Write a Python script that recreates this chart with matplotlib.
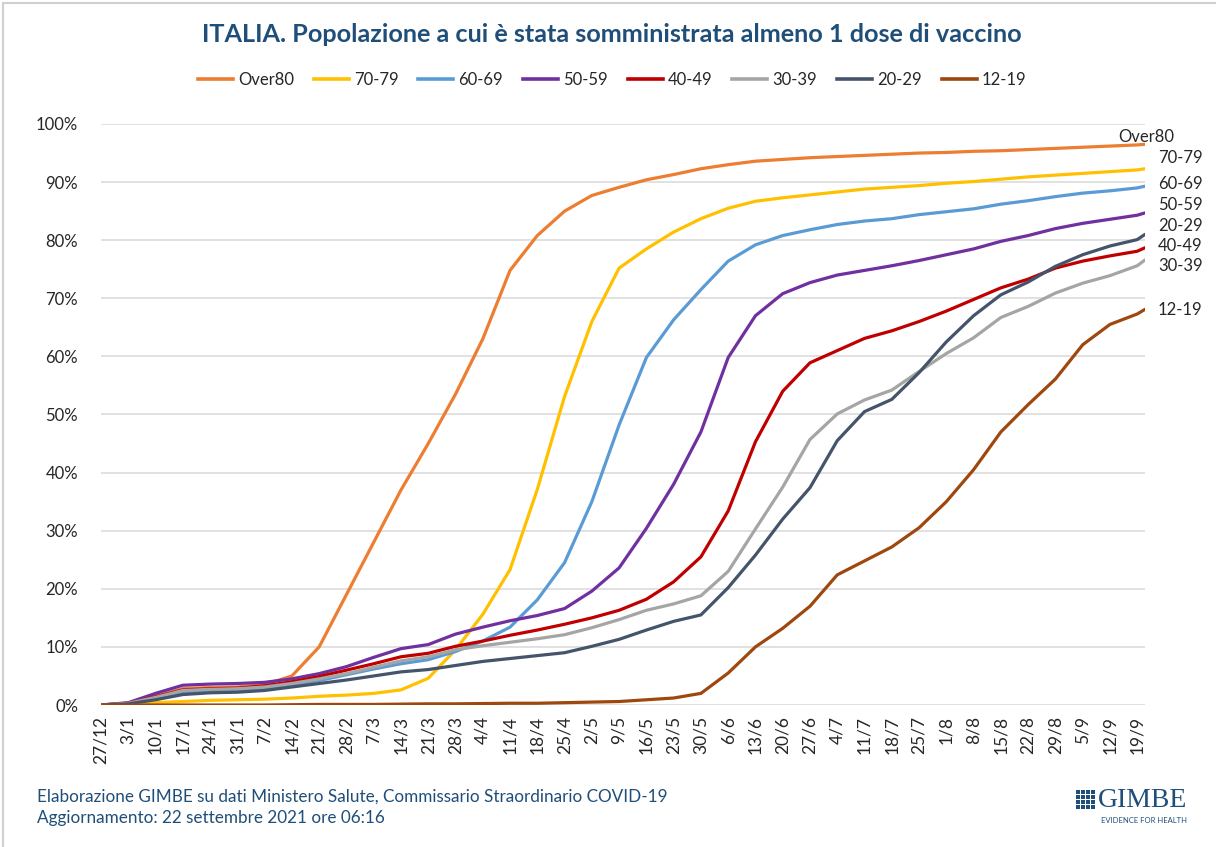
import matplotlib
matplotlib.use('Agg')
import matplotlib.pyplot as plt
import pandas as pd
from matplotlib.lines import Line2D
from matplotlib.patches import Rectangle

# ---------------- data ----------------
tick_labels = ['27/12', '3/1', '10/1', '17/1', '24/1', '31/1', '7/2', '14/2', '21/2', '28/2',
               '7/3', '14/3', '21/3', '28/3', '4/4', '11/4', '18/4', '25/4', '2/5', '9/5',
               '16/5', '23/5', '30/5', '6/6', '13/6', '20/6', '27/6', '4/7', '11/7', '18/7',
               '25/7', '1/8', '8/8', '15/8', '22/8', '29/8', '5/9', '12/9', '19/9']

dates = ['2020-12-27', '2021-01-03', '2021-01-10', '2021-01-17', '2021-01-24', '2021-01-31',
         '2021-02-07', '2021-02-14', '2021-02-21', '2021-02-28', '2021-03-07', '2021-03-14',
         '2021-03-21', '2021-03-28', '2021-04-04', '2021-04-11', '2021-04-18', '2021-04-25',
         '2021-05-02', '2021-05-09', '2021-05-16', '2021-05-23', '2021-05-30', '2021-06-06',
         '2021-06-13', '2021-06-20', '2021-06-27', '2021-07-04', '2021-07-11', '2021-07-18',
         '2021-07-25', '2021-08-01', '2021-08-08', '2021-08-15', '2021-08-22', '2021-08-29',
         '2021-09-05', '2021-09-12', '2021-09-19', '2021-09-21']

over80 = [0, 0.3, 1.5, 2.8, 3.0, 3.1, 3.5, 5.0, 10.0, 19.0, 28.0, 37.0, 45.0, 53.5, 63.0,
          74.8, 80.8, 85.0, 87.7, 89.1, 90.4, 91.3, 92.3, 93.0, 93.6, 93.9, 94.2, 94.4, 94.6,
          94.8, 95.0, 95.1, 95.3, 95.4, 95.6, 95.8, 96.0, 96.2, 96.4, 96.5]
age_70_79 = [0, 0.1, 0.4, 0.6, 0.8, 0.9, 1.0, 1.2, 1.5, 1.7, 2.0, 2.6, 4.6, 9.5, 15.6,
             23.3, 37.1, 53.1, 66.0, 75.2, 78.5, 81.4, 83.7, 85.5, 86.7, 87.3, 87.8, 88.3, 88.8,
             89.1, 89.4, 89.8, 90.1, 90.5, 90.9, 91.2, 91.5, 91.8, 92.1, 92.3]
age_60_69 = [0, 0.2, 1.0, 2.0, 2.3, 2.4, 2.8, 3.5, 4.2, 5.2, 6.2, 7.1, 7.8, 9.2, 11.0,
             13.4, 18.1, 24.5, 35.0, 48.2, 59.8, 66.3, 71.5, 76.4, 79.2, 80.8, 81.8, 82.7, 83.3,
             83.7, 84.4, 84.9, 85.4, 86.2, 86.8, 87.5, 88.1, 88.5, 89.0, 89.3]
age_50_59 = [0, 0.4, 2.0, 3.4, 3.6, 3.7, 3.9, 4.5, 5.4, 6.6, 8.2, 9.7, 10.4, 12.2, 13.4,
             14.5, 15.4, 16.6, 19.6, 23.6, 30.4, 38.0, 47.0, 59.8, 67.0, 70.8, 72.7, 74.0, 74.8,
             75.6, 76.5, 77.5, 78.5, 79.8, 80.8, 82.0, 82.9, 83.6, 84.3, 84.7]
age_40_49 = [0, 0.3, 1.4, 2.6, 2.8, 2.9, 3.3, 4.0, 4.9, 6.0, 7.1, 8.3, 8.9, 10.1, 11.0,
             12.0, 12.9, 13.9, 15.0, 16.3, 18.2, 21.2, 25.5, 33.4, 45.3, 54.0, 58.9, 61.0, 63.1,
             64.4, 66.0, 67.8, 69.8, 71.8, 73.3, 75.2, 76.4, 77.3, 78.1, 78.7]
age_30_39 = [0, 0.3, 1.3, 2.5, 2.7, 2.8, 3.1, 3.7, 4.5, 5.4, 6.5, 7.6, 8.3, 9.5, 10.2,
             10.8, 11.4, 12.1, 13.3, 14.7, 16.3, 17.4, 18.8, 23.0, 30.3, 37.5, 45.7, 50.1, 52.5,
             54.2, 57.4, 60.5, 63.2, 66.7, 68.6, 70.9, 72.6, 73.9, 75.6, 76.6]
age_20_29 = [0, 0.2, 0.9, 1.8, 2.1, 2.2, 2.5, 3.1, 3.7, 4.3, 5.0, 5.7, 6.1, 6.8, 7.5,
             8.0, 8.5, 9.0, 10.1, 11.3, 12.9, 14.4, 15.5, 20.2, 25.8, 32.0, 37.4, 45.5, 50.5,
             52.6, 57.2, 62.5, 67.0, 70.6, 72.8, 75.5, 77.5, 79.0, 80.1, 81.0]
age_12_19 = [0, 0, 0, 0, 0, 0, 0, 0.05, 0.1, 0.1, 0.1, 0.15, 0.2, 0.2, 0.25,
             0.3, 0.3, 0.4, 0.5, 0.6, 0.9, 1.2, 2.0, 5.5, 10.0, 13.2, 17.0, 22.4, 24.8,
             27.2, 30.5, 35.0, 40.5, 47.0, 51.7, 56.1, 62.0, 65.5, 67.3, 68.1]

series_names = ['Over80', '70-79', '60-69', '50-59', '40-49', '30-39', '20-29', '12-19']
series_values = [over80, age_70_79, age_60_69, age_50_59, age_40_49, age_30_39, age_20_29, age_12_19]
series_colors = ['#ED7D31', '#FFC000', '#5B9BD5', '#7030A0', '#C00000', '#A5A5A5', '#44546A', '#9E480E']

# right-hand labels (order top to bottom as in the reference)
end_label_order = ['Over80', '70-79', '60-69', '50-59', '20-29', '40-49', '30-39', '12-19']

# ---------------- figure ----------------
W, H = 1216, 847
plt.rcParams['font.family'] = ['Lato', 'DejaVu Sans']
fig = plt.figure(figsize=(W / 100, H / 100), dpi=100)
fig.patch.set_facecolor('white')

def fx(px):
    return px / W

def fy(py):
    return 1 - py / H

ax_left, ax_right = 101, 1145
ax_top, ax_bottom = 124, 705
ax = fig.add_axes([fx(ax_left), fy(ax_bottom), (ax_right - ax_left) / W, (ax_bottom - ax_top) / H])

x = pd.to_datetime(dates)
for name, vals, col in zip(series_names, series_values, series_colors):
    ax.plot(x, vals, color=col, lw=2.3, solid_capstyle='round', solid_joinstyle='round',
            label=name, zorder=3)

ax.set_xlim(x[0], x[-1])
ax.set_ylim(0, 100)
ax.set_yticks(range(0, 101, 10))
ax.set_yticklabels([f'{v}%' for v in range(0, 101, 10)], fontsize=12, color='#262626')
ax.set_xticks(x[:len(tick_labels)])
ax.set_xticklabels(tick_labels, rotation=90, fontsize=12.5, color='#262626')
ax.tick_params(axis='both', length=0)
ax.tick_params(axis='y', pad=16.5)
ax.tick_params(axis='x', pad=8)
ax.grid(axis='y', color='#D9D9D9', lw=1.1, zorder=0)
ax.grid(axis='x', visible=False)
for s in ax.spines.values():
    s.set_visible(False)
ax.set_facecolor('white')

# title
fig.text(fx(612), fy(35), 'ITALIA. Popolazione a cui è stata somministrata almeno 1 dose di vaccino',
         ha='center', va='center', fontsize=18.2, fontweight='bold', color='#1F4E79')

# legend
leg = fig.legend(handles=[Line2D([], [], color=c, lw=2.6) for c in series_colors],
                 labels=series_names, loc='center', bbox_to_anchor=(fx(612), fy(80)),
                 ncol=8, frameon=False, fontsize=12, handlelength=2.1, handletextpad=0.3,
                 columnspacing=1.2)
for t in leg.get_texts():
    t.set_color('#262626')

# end labels on the right
end_label_px = {'Over80': (1118, 137), '70-79': (1158, 158), '60-69': (1158, 184),
                '50-59': (1158, 205), '20-29': (1158, 226), '40-49': (1158, 246),
                '30-39': (1158, 266), '12-19': (1158, 310)}
for name in end_label_order:
    px, py = end_label_px[name]
    fig.text(fx(px), fy(py), name, ha='left', va='center', fontsize=12, color='#262626')

# footer
fig.text(fx(37), fy(797), 'Elaborazione GIMBE su dati Ministero Salute, Commissario Straordinario COVID-19',
         ha='left', va='center', fontsize=12.3, color='#1F4E79')
fig.text(fx(37), fy(818), 'Aggiornamento: 22 settembre 2021 ore 06:16',
         ha='left', va='center', fontsize=12.3, color='#1F4E79')

# GIMBE logo
fig.text(fx(1187), fy(800), 'GIMBE', ha='right', va='center', fontsize=20,
         family='Liberation Serif', color='#1F4E79')
fig.text(fx(1187), fy(820), 'EVIDENCE FOR HEALTH', ha='right', va='center', fontsize=5.5,
         color='#1F4E79')
for i in range(4):
    for j in range(4):
        fig.add_artist(Rectangle((fx(1076 + i * 5), fy(790 + j * 5 + 4)), 4 / W, 4 / H,
                                 transform=fig.transFigure, color='#1F4E79', lw=0))

# slide border
fig.add_artist(Line2D([fx(3), fx(3)], [fy(3), fy(847)], transform=fig.transFigure, color='#D0D0D0', lw=1.5))
fig.add_artist(Line2D([fx(3), fx(1216)], [fy(3), fy(3)], transform=fig.transFigure, color='#D0D0D0', lw=1.5))

fig.savefig('out.png', dpi=100, facecolor='white')
